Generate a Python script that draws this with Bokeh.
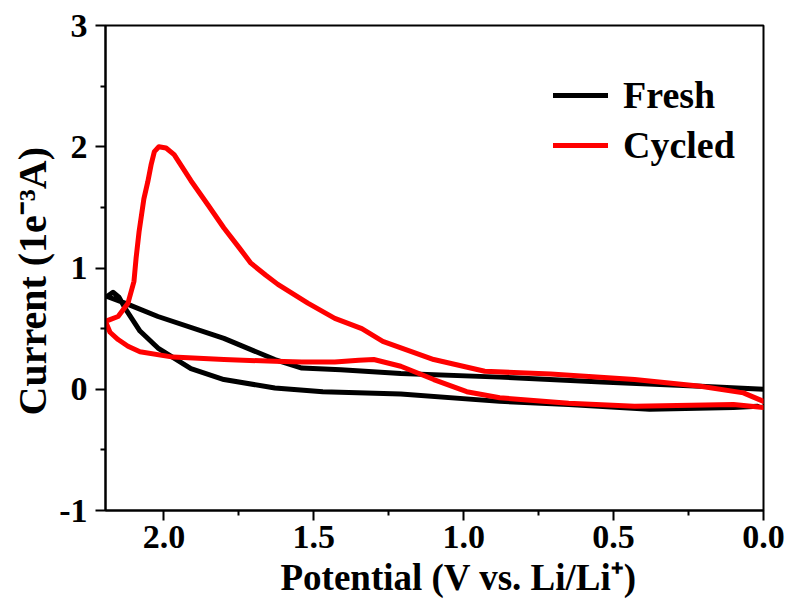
from bokeh.plotting import figure
from bokeh.models import Range1d, FixedTicker, NumeralTickFormatter, Legend, LegendItem, Title
from bokeh.embed import file_html
from bokeh.resources import INLINE

# ---- data ----
fresh_potential = [0.00, 0.21, 0.54, 0.88, 1.21, 1.41, 1.54, 1.63, 1.80, 2.02, 2.13, 2.19,
                   2.17, 2.15, 2.13, 2.08, 2.02, 1.91, 1.80, 1.63, 1.47, 1.21, 0.88, 0.65,
                   0.38, 0.10, 0.02]
fresh_current = [0.00, 0.025, 0.06, 0.10, 0.13, 0.16, 0.175, 0.245, 0.42, 0.60, 0.71, 0.765,
                 0.80, 0.76, 0.67, 0.48, 0.34, 0.17, 0.08, 0.01, -0.02, -0.04, -0.10, -0.125,
                 -0.165, -0.15, -0.14]

cycled_potential = [0.00, 0.10, 0.43, 0.65, 0.88, 0.99, 1.10, 1.21, 1.30, 1.35, 1.43, 1.54,
                    1.63, 1.80, 1.97, 2.08, 2.12, 2.153, 2.18, 2.195, 2.153, 2.12, 2.10, 2.093,
                    2.083, 2.067, 2.054, 2.043, 2.032, 2.017, 1.993, 1.966, 1.91, 1.853, 1.80,
                    1.75, 1.71, 1.66, 1.62, 1.52, 1.43, 1.34, 1.27, 1.10, 0.93, 0.71, 0.43,
                    0.21, 0.067, 0.00]
cycled_current = [-0.15, -0.125, -0.14, -0.115, -0.07, -0.02, 0.08, 0.19, 0.245, 0.24, 0.225,
                  0.225, 0.23, 0.245, 0.265, 0.31, 0.355, 0.41, 0.47, 0.56, 0.60, 0.71, 0.89,
                  1.08, 1.30, 1.57, 1.71, 1.85, 1.96, 2.00, 1.99, 1.935, 1.72, 1.52, 1.33,
                  1.17, 1.04, 0.94, 0.865, 0.71, 0.585, 0.50, 0.395, 0.245, 0.148, 0.125,
                  0.08, 0.025, -0.03, -0.10]

series_names = ["Fresh", "Cycled"]
x_title = "Potential (V vs. Li/Li\u207a)"
y_title = "Current (1e\u207b\u00b3A)"
x_major = [0.0, 0.5, 1.0, 1.5, 2.0]
x_minor = [0.25, 0.75, 1.25, 1.75]
y_major = [-1, 0, 1, 2, 3]
y_minor = [-0.5, 0.5, 1.5, 2.5]

FONT = "Liberation Serif"

p = figure(frame_width=658, frame_height=485,
           min_border_left=105, min_border_right=26, min_border_top=25, min_border_bottom=92,
           x_range=Range1d(2.195, 0.0), y_range=Range1d(-1, 3),
           output_backend="svg", toolbar_location=None)

p.xgrid.visible = False
p.ygrid.visible = False
p.outline_line_color = "black"
p.outline_line_width = 2
p.outline_line_alpha = 1.0
p.background_fill_color = "white"
p.border_fill_color = "white"

p.xaxis.ticker = FixedTicker(ticks=x_major, minor_ticks=x_minor)
p.yaxis.ticker = FixedTicker(ticks=y_major, minor_ticks=y_minor)
p.xaxis.formatter = NumeralTickFormatter(format="0.0")
p.yaxis.formatter = NumeralTickFormatter(format="0")

for ax in (p.xaxis[0], p.yaxis[0]):
    ax.axis_line_width = 2
    ax.axis_line_color = "black"
    ax.major_tick_line_width = 2
    ax.minor_tick_line_width = 2
    ax.major_tick_line_color = "black"
    ax.minor_tick_line_color = "black"
    ax.major_tick_out = 10
    ax.major_tick_in = 0
    ax.minor_tick_out = 5
    ax.minor_tick_in = 0
    ax.major_label_text_font = FONT
    ax.major_label_text_font_style = "bold"
    ax.major_label_text_font_size = "34px"
    ax.major_label_text_color = "black"
p.xaxis.major_label_standoff = 5
p.yaxis.major_label_standoff = 8

r_fresh = p.line(fresh_potential, fresh_current, line_color="black", line_width=5,
                 line_join="round", line_cap="round")
r_cycled = p.line(cycled_potential, cycled_current, line_color="#ff0000", line_width=5,
                  line_join="round", line_cap="round")

legend = Legend(items=[LegendItem(label=series_names[0], renderers=[r_fresh]),
                       LegendItem(label=series_names[1], renderers=[r_cycled])],
                location=(448, 343), orientation="vertical",
                border_line_alpha=0, background_fill_alpha=0,
                label_text_font=FONT, label_text_font_style="bold",
                label_text_font_size="38px", label_text_color="black",
                glyph_width=55, glyph_height=44, label_height=44,
                label_standoff=15, spacing=6, padding=0, margin=0)
p.add_layout(legend)

p.add_layout(Title(text=x_title, align="left", offset=175, standoff=8,
                   text_font=FONT, text_font_style="bold", text_font_size="37px",
                   text_color="black"), "below")
p.add_layout(Title(text=y_title, align="left", offset=95, standoff=4,
                   text_font=FONT, text_font_style="bold", text_font_size="40px",
                   text_color="black"), "left")

open("out.html", "w").write(file_html(p, INLINE))
